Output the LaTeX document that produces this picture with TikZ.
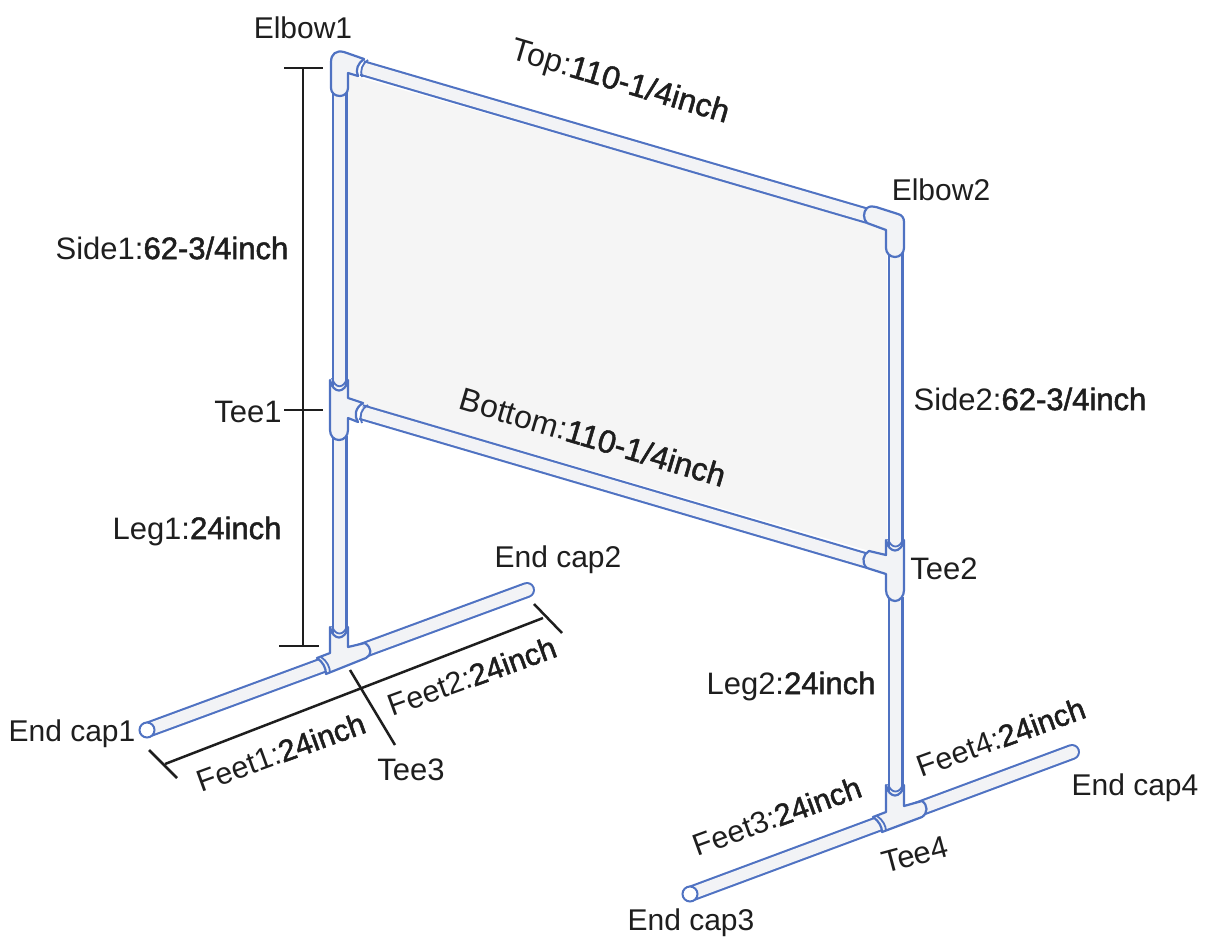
\documentclass[tikz,border=0pt]{standalone}
\usepackage{fontspec}
\setmainfont{Liberation Sans}
\newfontfamily\semibf[FakeBold=1.6]{Liberation Sans}
\definecolor{pipeblue}{HTML}{4F72C2}
\definecolor{pipefill}{HTML}{F2F3F6}
\definecolor{panelfill}{HTML}{F5F5F5}
\definecolor{inkblack}{HTML}{1E1E1E}
\tikzset{
  pipe/.style={draw=pipeblue,line width=2.1pt,double=pipefill,double distance=11.8pt},
  fitting/.style={draw=pipeblue,line width=2.2pt,fill=pipefill,line join=round},
  collar/.style={draw=pipeblue,line width=1.8pt},
  endcap/.style={circle,draw=pipeblue,line width=2pt,fill=white,inner sep=0pt,minimum size=15pt},
  dimline/.style={draw=inkblack,line width=2.5pt},
  lbl/.style={inner sep=0pt,text=inkblack,font=\fontsize{30}{34}\selectfont},
  biglbl/.style={inner sep=0pt,text=inkblack,font=\fontsize{31}{35}\selectfont},
  feetlbl/.style={inner sep=0pt,text=inkblack,rotate=20,font=\fontsize{30.5}{35}\selectfont},
  spanlbl/.style={inner sep=0pt,text=inkblack,rotate=-16.5,font=\fontsize{32}{36}\selectfont},
}
\newcommand{\val}[1]{{\semibf #1}}
\begin{document}
\begin{tikzpicture}[x=1pt,y=-1pt]
\useasboundingbox (0,0) rectangle (1207,937);
% panel
\fill[panelfill] (347,74) -- (887,228) -- (887,556) -- (347,400) -- cycle;
% pipe ends
\coordinate (elbowAdown) at (339.5,92);
\coordinate (teeAup) at (339.5,388);
\coordinate (teeAdown) at (339.5,436);
\coordinate (teeCup) at (339.5,636);
\coordinate (elbowBdown) at (895.5,252);
\coordinate (teeBup) at (895.5,549);
\coordinate (teeBdown) at (895.5,597);
\coordinate (teeDup) at (895.5,794);
\coordinate (elbowAright) at (362,68);
\coordinate (elbowBleft) at (868,216);
\coordinate (teeAright) at (361,412);
\coordinate (teeBleft) at (868,561);
\coordinate (capA) at (147,730);
\coordinate (capB) at (527,590);
\coordinate (capC) at (690,894);
\coordinate (capD) at (1072,752);
% pipes
\draw[pipe] (elbowAdown) -- (teeAup);
\draw[pipe] (teeAdown) -- (teeCup);
\draw[pipe] (elbowBdown) -- (teeBup);
\draw[pipe] (teeBdown) -- (teeDup);
\draw[pipe] (elbowAright) -- (elbowBleft);
\draw[pipe] (teeAright) -- (teeBleft);
\draw[pipe,line cap=round] (capA) -- (capB);
\draw[pipe,line cap=round] (capC) -- (capD);
\node[endcap] (capAend) at (capA) {};
\node[endcap] (capCend) at (capC) {};
% elbow 1
\draw[fitting] (331,88) -- (331,62) .. controls (331,54) and (336,50) .. (344,52) -- (364,59)
  .. controls (358,63) and (355,70) .. (358,76) -- (348,73) -- (348,88)
  .. controls (348,93) and (344,96) .. (340,96) .. controls (335,96) and (331,93) .. (331,88) -- cycle;
\draw[collar] (368,60) .. controls (362,64) and (360,70) .. (362,77);
% elbow 2
\draw[fitting] (867,208) .. controls (870,206) and (873,206) .. (876,207) -- (898,214)
  .. controls (902,215) and (904,218) .. (904,222) -- (904,248)
  .. controls (904,253) and (900,257) .. (895,257) .. controls (890,257) and (886,253) .. (886,248)
  -- (886,230) -- (867,223) .. controls (863,219) and (863,212) .. (867,208) -- cycle;
% tee 1
\draw[fitting] (330,380) -- (330,430) .. controls (330,436) and (334,440) .. (339,440)
  .. controls (344,440) and (348,436) .. (348,430) -- (348,418) -- (358,422)
  .. controls (354,416) and (355,408) .. (363,403) -- (348,398) -- (348,380)
  .. controls (345,394) and (333,394) .. (330,380) -- cycle;
\draw[collar] (332,378) .. controls (335,389) and (344,389) .. (347,378);
\draw[collar] (368,405) .. controls (361,409) and (359,416) .. (362,423);
% tee 2
\draw[fitting] (886,540) -- (886,555) -- (869,551) .. controls (863,554) and (861,563) .. (867,568)
  -- (886,574) -- (886,590) .. controls (886,596) and (890,601) .. (895,601)
  .. controls (900,601) and (904,596) .. (904,590) -- (904,540)
  .. controls (901,554) and (889,554) .. (886,540) -- cycle;
\draw[collar] (888,539) .. controls (891,549) and (900,549) .. (903,539);
% tee 3
\draw[fitting] (330,627) -- (330,653) -- (317,658) .. controls (323,662) and (326,668) .. (326,674)
  -- (366,658) .. controls (372,655) and (372,648) .. (365,643) -- (348,647) -- (348,627)
  .. controls (345,641) and (333,641) .. (330,627) -- cycle;
\draw[collar] (332,626) .. controls (335,636) and (344,636) .. (347,626);
\draw[collar] (321,657) .. controls (327,661) and (330,667) .. (330,673);
% tee 4
\draw[fitting] (886,785) -- (886,812) -- (873,817) .. controls (879,821) and (882,827) .. (882,832)
  -- (922,817) .. controls (928,813) and (928,805) .. (922,801) -- (904,806) -- (904,785)
  .. controls (901,799) and (889,799) .. (886,785) -- cycle;
\draw[collar] (888,784) .. controls (891,794) and (900,794) .. (903,784);
\draw[collar] (877,816) .. controls (883,820) and (886,826) .. (886,831);
% side dimension
\coordinate (dimTopL) at (284,68);
\coordinate (dimTopR) at (323,68);
\coordinate (dimTop) at (303,68);
\coordinate (dimMidL) at (284,410);
\coordinate (dimMidR) at (323,410);
\coordinate (dimBotL) at (279,646);
\coordinate (dimBotR) at (319,646);
\coordinate (dimBot) at (303,646);
\draw[dimline] (dimTopL) -- (dimTopR);
\draw[dimline] (dimMidL) -- (dimMidR);
\draw[dimline] (dimBotL) -- (dimBotR);
\draw[dimline] (dimTop) -- (dimBot);
% feet dimension
\coordinate (tickAa) at (149,750);
\coordinate (tickAb) at (177,778);
\coordinate (tickBa) at (350,670);
\coordinate (tickBb) at (395,745);
\coordinate (tickCa) at (534,604);
\coordinate (tickCb) at (562,633);
\coordinate (feetDimL) at (165,764);
\coordinate (feetDimR) at (543,618);
\draw[dimline] (tickAa) -- (tickAb);
\draw[dimline] (tickBa) -- (tickBb);
\draw[dimline] (tickCa) -- (tickCb);
\draw[dimline] (feetDimL) -- (feetDimR);
% labels
\node[lbl] (elbowAlbl) at (303,28) {Elbow1};
\node[lbl] (elbowBlbl) at (941,190) {Elbow2};
\node[spanlbl] (toplbl) at (620,83) {Top:\val{110-1/4inch}};
\node[spanlbl] (bottomlbl) at (593,437) {Bottom:\val{110-1/4inch}};
\node[biglbl] (sideAlbl) at (172,248) {Side1:\val{62-3/4inch}};
\node[biglbl] (sideBlbl) at (1030,399) {Side2:\val{62-3/4inch}};
\node[biglbl] (teeAlbl) at (248,412) {Tee1};
\node[biglbl] (teeBlbl) at (944,569) {Tee2};
\node[biglbl] (teeClbl) at (411,770) {Tee3};
\node[biglbl,rotate=15] (teeDlbl) at (915,855) {Tee4};
\node[biglbl] (legAlbl) at (197,531) {Leg1:\val{24inch}};
\node[biglbl] (legBlbl) at (791,686) {Leg2:\val{24inch}};
\node[feetlbl] (feetAlbl) at (281,752) {Feet1:\val{24inch}};
\node[feetlbl] (feetBlbl) at (472,676) {Feet2:\val{24inch}};
\node[feetlbl] (feetClbl) at (777,816) {Feet3:\val{24inch}};
\node[feetlbl] (feetDlbl) at (1001,737) {Feet4:\val{24inch}};
\node[lbl] (capAlbl) at (72,734) {End cap1};
\node[lbl] (capBlbl) at (558,560) {End cap2};
\node[lbl] (capClbl) at (691,923) {End cap3};
\node[lbl] (capDlbl) at (1135,788) {End cap4};
\end{tikzpicture}
\end{document}
